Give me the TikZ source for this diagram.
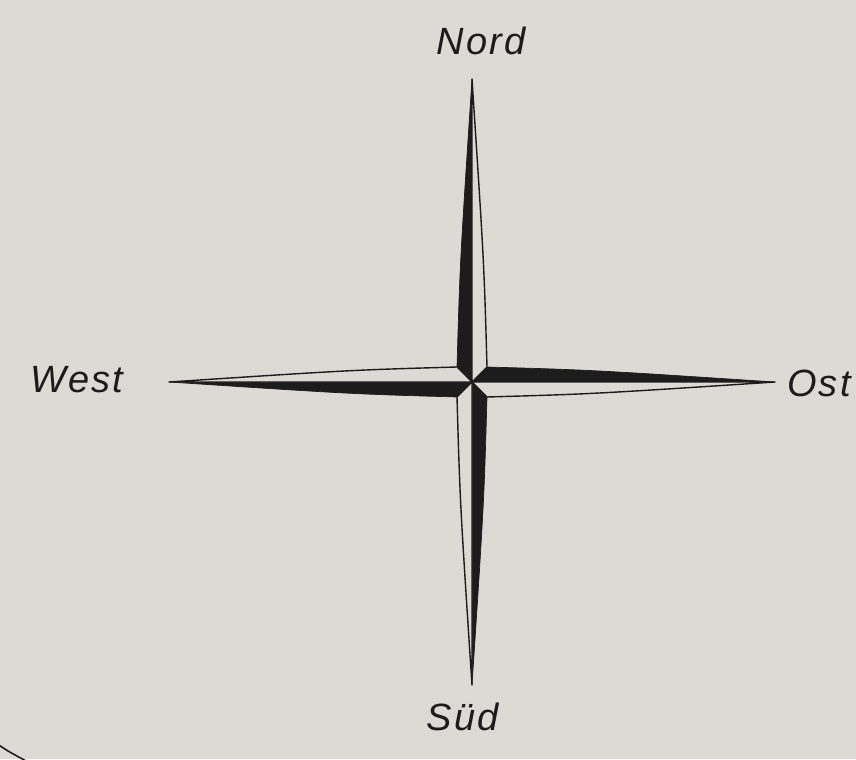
\documentclass[tikz,border=0pt]{standalone}
\usepackage{fontspec}
\newfontfamily\windfont[LetterSpace=6]{Liberation Sans}
\usetikzlibrary{positioning,calc}
\definecolor{papier}{RGB}{220,218,212}
\definecolor{tusche}{RGB}{28,28,28}
\tikzset{
  windlabel/.style={
    font=\windfont\itshape\fontsize{27}{30}\selectfont,
    text=tusche, inner sep=0pt, anchor=base
  },
  armdark/.style={fill=tusche, draw=tusche, line width=0.5pt, line join=round},
  armlight/.style={fill=papier, draw=tusche, line width=1pt, line join=round}
}

\begin{document}
\begin{tikzpicture}[x=0.025cm, y=0.025cm]
  % Paper
  \fill[papier] (0,0) rectangle (856,759);
  \useasboundingbox (0,0) rectangle (856,759);
  \clip (0,0) rectangle (856,759);

  \coordinate (rose) at (472,377);

  % Arms of the rose
  \foreach \ang in {0,90,180,270}{
    \begin{scope}[shift={(rose)}, rotate=\ang]
      \filldraw[armdark]  (0,0) -- (15,15)  .. controls (120,12) .. (303,0) -- cycle;
      \filldraw[armlight] (0,0) -- (15,-15) .. controls (120,-12) .. (303,0) -- cycle;
    \end{scope}
  }

  % Labels
  \node[windlabel] (nord) at (481,704) {Nord};
  \node[windlabel] (sued) at (463,29)  {Süd};
  \node[windlabel] (west) at (77,367)  {West};
  \node[windlabel] (ost)  at (819,362) {Ost};

  % Edge of the sheet
  \draw[tusche, line width=1.1pt] (-4,16) .. controls (6,9) .. (26,-2);
\end{tikzpicture}
\end{document}
